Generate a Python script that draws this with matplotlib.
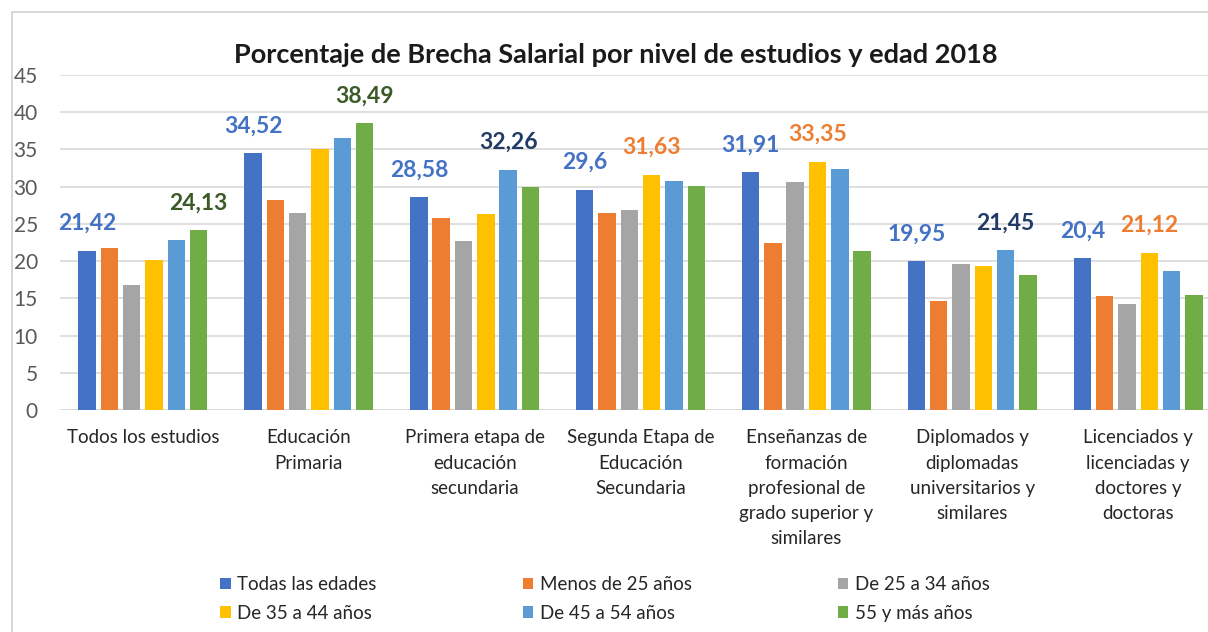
import matplotlib
matplotlib.use("Agg")
import matplotlib.pyplot as plt
from matplotlib.patches import Rectangle, Patch
import numpy as np

plt.rcParams['font.family'] = ['Lato', 'DejaVu Sans']

categories = ["Todos los estudios", "Educación\nPrimaria", "Primera etapa de\neducación\nsecundaria",
              "Segunda Etapa de\nEducación\nSecundaria", "Enseñanzas de\nformación\nprofesional de\ngrado superior y\nsimilares",
              "Diplomados y\ndiplomadas\nuniversitarios y\nsimilares", "Licenciados y\nlicenciadas y\ndoctores y\ndoctoras"]
series_names = ["Todas las edades", "Menos de 25 años", "De 25 a 34 años",
                "De 35 a 44 años", "De 45 a 54 años", "55 y más años"]
todas = [21.42, 34.52, 28.58, 29.6, 31.91, 19.95, 20.4]
menos25 = [21.7, 28.2, 25.8, 26.5, 22.5, 14.6, 15.3]
de25_34 = [16.8, 26.5, 22.7, 26.8, 30.6, 19.6, 14.2]
de35_44 = [20.1, 35.1, 26.3, 31.63, 33.35, 19.4, 21.12]
de45_54 = [22.8, 36.5, 32.26, 30.8, 32.4, 21.45, 18.7]
mas55 = [24.13, 38.49, 29.9, 30.1, 21.3, 18.2, 15.4]
values = [todas, menos25, de25_34, de35_44, de45_54, mas55]
colors = ["#4472C4", "#ED7D31", "#A5A5A5", "#FFC000", "#5B9BD5", "#70AD47"]
yticks = [0, 5, 10, 15, 20, 25, 30, 35, 40, 45]

# labelled bars: (series index, category index, label colour)
labelled = [(0, i, "#4472C4") for i in range(7)] + [
    (5, 0, "#3B5A26"), (5, 1, "#3B5A26"), (4, 2, "#223B66"), (3, 3, "#ED7D31"),
    (3, 4, "#ED7D31"), (4, 5, "#223B66"), (3, 6, "#ED7D31")]

fig = plt.figure(figsize=(12.08, 6.32), dpi=100)
W, H = 1208, 632
ax = fig.add_axes([60 / W, 1 - 410 / H, 1161 / W, 335 / H])

x = np.arange(len(categories))
pitch = 0.1345
bw = 0.105
for s, (vals, c) in enumerate(zip(values, colors)):
    ax.bar(x + (s - 2.5) * pitch, vals, width=bw, color=c, zorder=3, label=series_names[s])

def fmt(v):
    s = f"{v:.2f}".rstrip('0').rstrip('.')
    return s.replace('.', ',')

for s, i, col in labelled:
    v = values[s][i]
    ax.annotate(fmt(v), (x[i] + (s - 2.5) * pitch, v), xytext=(0, 12), textcoords='offset points',
                ha='center', va='bottom', fontsize=16.5, fontweight='bold', color=col)

ax.set_xlim(-0.5, len(categories) - 0.5)
ax.set_ylim(0, 45)
ax.set_yticks(yticks)
ax.yaxis.grid(True, color="#D9D9D9", linewidth=1.2, zorder=0)
ax.tick_params(axis='y', length=0, labelsize=15, labelcolor="#595959", pad=16)
ax.tick_params(axis='x', length=0, labelsize=13.5, labelcolor="#262626", pad=14)
ax.set_xticks(x)
ax.set_xticklabels(categories, linespacing=1.58)
for sp in ax.spines.values():
    sp.set_visible(False)
ax.axhline(0, color="#D9D9D9", linewidth=1.2, zorder=2)

fig.text(616 / W, 1 - 55 / H, "Porcentaje de Brecha Salarial por nivel de estudios y edad 2018",
         ha='center', va='center', fontsize=19.5, fontweight='bold', color="#1a1a1a")

# frame
fig.patches.append(Rectangle((12 / W, -0.1), 1.2, 1 - 12 / H + 0.1, transform=fig.transFigure,
                             fill=False, edgecolor="#D0D0D0", linewidth=1.2))

order = [0, 3, 1, 4, 2, 5]
handles = [Patch(facecolor=colors[k], edgecolor='none') for k in order]
labels = [series_names[k] for k in order]
fig.legend(handles, labels, ncol=3, loc='center', bbox_to_anchor=(605 / W, 1 - 599 / H),
           frameon=False, fontsize=13.5, handlelength=0.55, handleheight=0.55, handletextpad=0.35,
           columnspacing=7.8, labelspacing=0.6, labelcolor="#262626")

fig.savefig("out.png", dpi=100)
